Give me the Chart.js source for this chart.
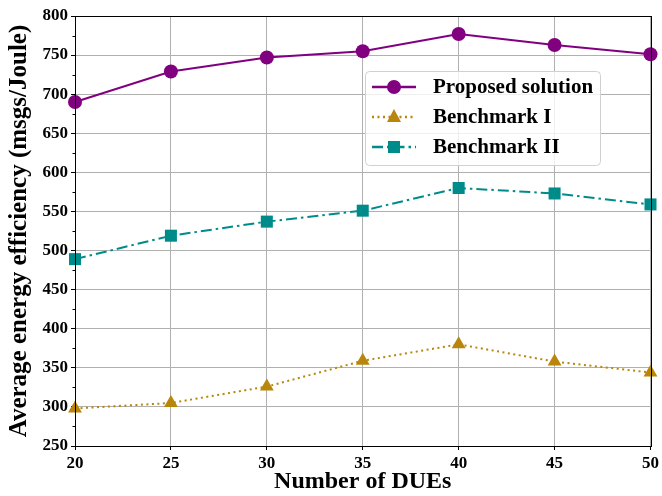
<!DOCTYPE html>
<html>
<head>
<meta charset="utf-8">
<script src="https://cdn.jsdelivr.net/npm/chart.js@4"></script>
<style>
  html, body { margin: 0; padding: 0; background: #fff; }
  #wrap { width: 662px; height: 496px; }
</style>
</head>
<body>
<div id="wrap"><canvas id="effChart" width="662" height="496"></canvas></div>
<script>
var dues = [20, 25, 30, 35, 40, 45, 50];
var proposed = [690, 729, 747, 755, 777, 763, 751];
var benchmark1 = [298, 305, 326, 359, 380, 358, 344];
var benchmark2 = [489, 519, 537, 551, 580, 573, 559];
var yTicks = [250, 300, 350, 400, 450, 500, 550, 600, 650, 700, 750, 800];

var serif = "'Liberation Serif', 'Times New Roman', serif";

function toPoints(vals) {
    return vals.map(function (v, i) { return { x: dues[i], y: v }; });
}

var series = [
    { label: 'Proposed solution', data: proposed, color: '#800080', dash: [], marker: 'circle', radius: 7 },
    { label: 'Benchmark I', data: benchmark1, color: '#B8860B', dash: [2, 3.5], marker: 'triangle', radius: 8 },
    { label: 'Benchmark II', data: benchmark2, color: '#008B8B', dash: [11, 4, 2.5, 4], marker: 'rect', radius: 8.5 }
];

// box round the plot, minor y ticks and the legend inside the plot
var extras = {
    id: 'extras',
    afterDraw: function (chart) {
        var c = chart.ctx, a = chart.chartArea, ys = chart.scales.y;
        c.save();
        c.strokeStyle = '#000';
        c.lineWidth = 1;
        c.beginPath();
        for (var v = 275; v < 800; v += 50) {
            var py = Math.round(ys.getPixelForValue(v)) + 0.5;
            c.moveTo(a.left - 2.5, py);
            c.lineTo(a.left, py);
        }
        c.stroke();
        c.strokeRect(Math.round(a.left) + 0.5, Math.round(a.top) + 0.5,
            Math.round(a.right - a.left), Math.round(a.bottom - a.top));

        // legend
        var lx = 365, ly = 71, lw = 235, lh = 94;
        c.fillStyle = 'rgba(255,255,255,0.8)';
        c.strokeStyle = '#d0d0d0';
        c.beginPath();
        c.roundRect(lx + 0.5, ly + 0.5, lw, lh, 4);
        c.fill();
        c.stroke();
        series.forEach(function (s, i) {
            var yy = ly + 16 + i * 30;
            c.strokeStyle = s.color;
            c.fillStyle = s.color;
            c.lineWidth = 2.5;
            c.setLineDash(s.dash);
            c.beginPath();
            c.moveTo(372, yy);
            c.lineTo(416, yy);
            c.stroke();
            c.setLineDash([]);
            c.beginPath();
            if (s.marker === 'circle') {
                c.arc(394, yy, 7, 0, Math.PI * 2);
            } else if (s.marker === 'triangle') {
                c.moveTo(394, yy - 8);
                c.lineTo(401, yy + 5);
                c.lineTo(387, yy + 5);
                c.closePath();
            } else {
                c.rect(388, yy - 6, 12, 12);
            }
            c.fill();
            c.fillStyle = '#000';
            c.font = 'bold 21px ' + serif;
            c.textBaseline = 'middle';
            c.fillText(s.label, 433, yy + 1);
        });
        c.restore();
    }
};

var ctx = document.getElementById('effChart').getContext('2d');
var effChart = new Chart(ctx, {
    type: 'line',
    data: {
        datasets: series.map(function (s) {
            return {
                label: s.label,
                data: toPoints(s.data),
                borderColor: s.color,
                backgroundColor: s.color,
                borderWidth: 2,
                borderDash: s.dash,
                pointStyle: s.marker,
                pointRadius: s.radius,
                pointHoverRadius: s.radius,
                pointBorderWidth: 0,
                tension: 0,
                clip: false
            };
        })
    },
    options: {
        responsive: false,
        animation: false,
        layout: { padding: { left: 0, right: 9, top: 16, bottom: 0 } },
        plugins: {
            legend: { display: false },
            tooltip: { enabled: false }
        },
        scales: {
            x: {
                type: 'linear',
                min: 20,
                max: 50,
                afterBuildTicks: function (axis) {
                    axis.ticks = dues.map(function (v) { return { value: v }; });
                },
                afterFit: function (axis) { axis.height = 50; },
                grid: { color: '#b0b0b0', lineWidth: 1, tickLength: 4, tickColor: '#000' },
                border: { display: false },
                ticks: {
                    color: '#000',
                    padding: 3,
                    maxRotation: 0,
                    font: { family: serif, size: 17, weight: 'bold' }
                },
                title: {
                    display: true,
                    text: 'Number of DUEs',
                    color: '#000',
                    padding: { top: 0, bottom: 0 },
                    font: { family: serif, size: 24, weight: 'bold' }
                }
            },
            y: {
                type: 'linear',
                min: 250,
                max: 800,
                afterBuildTicks: function (axis) {
                    axis.ticks = yTicks.map(function (v) { return { value: v }; });
                },
                afterFit: function (axis) { axis.width = 75; },
                grid: { color: '#b0b0b0', lineWidth: 1, tickLength: 4, tickColor: '#000' },
                border: { display: false },
                ticks: {
                    color: '#000',
                    padding: 3,
                    font: { family: serif, size: 17, weight: 'bold' }
                },
                title: {
                    display: true,
                    text: 'Average energy efficiency (msgs/Joule)',
                    color: '#000',
                    padding: { top: 5, bottom: 0 },
                    font: { family: serif, size: 25, weight: 'bold' }
                }
            }
        }
    },
    plugins: [extras]
});
</script>
</body>
</html>
